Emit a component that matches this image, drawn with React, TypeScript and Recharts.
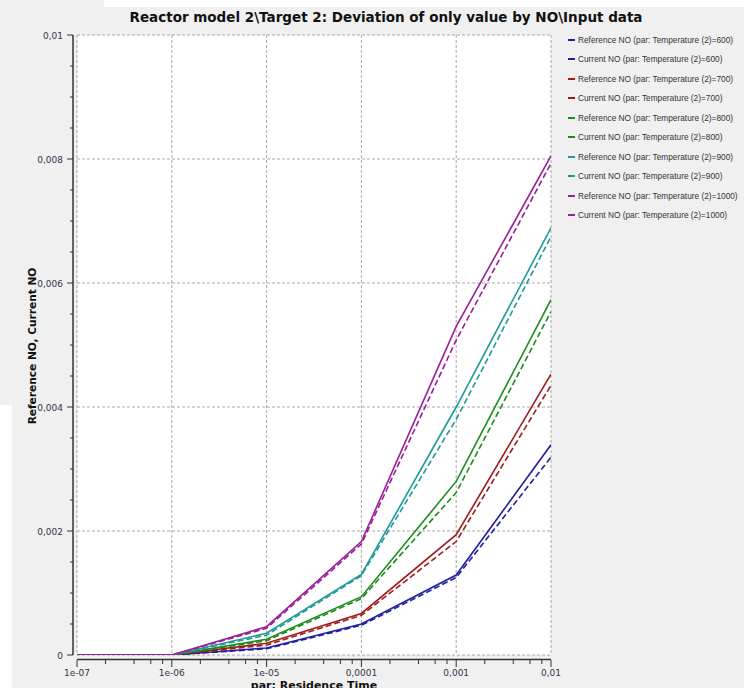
import { LineChart, Line, XAxis, YAxis, CartesianGrid } from "recharts";

// residence time points (log axis)
const tiempos = [1e-7, 1e-6, 1e-5, 1e-4, 1e-3, 1e-2];
const temperaturas = [600, 700, 800, 900, 1000];

// Current NO (solid) per temperature
const actual600 = [0, 0, 0.000113, 0.0005, 0.00129, 0.00339];
const actual700 = [0, 0, 0.000189, 0.00067, 0.00194, 0.00453];
const actual800 = [0, 0, 0.000253, 0.00094, 0.0028, 0.00573];
const actual900 = [0, 0, 0.00035, 0.0013, 0.004, 0.00689];
const actual1000 = [0, 0, 0.000457, 0.00183, 0.0053, 0.00805];

// Reference NO (dashed) per temperature
const ref600 = [0, 0, 0.0001, 0.00048, 0.00125, 0.00319];
const ref700 = [0, 0, 0.00016, 0.00064, 0.00183, 0.00435];
const ref800 = [0, 0, 0.00023, 0.00091, 0.00262, 0.00554];
const ref900 = [0, 0, 0.00032, 0.00128, 0.0038, 0.00675];
const ref1000 = [0, 0, 0.00043, 0.00179, 0.00508, 0.00793];

const colores = ["#2020a0", "#a01c1c", "#1c8c1c", "#1e9a9a", "#9a1e9a"];

const X_MAYORES = [1e-7, 1e-6, 1e-5, 1e-4, 1e-3, 1e-2];
const X_ETIQUETAS = ["1e-07", "1e-06", "1e-05", "0,0001", "0,001", "0,01"];
const X_MENORES = [
  2e-7, 4e-7, 6e-7, 8e-7,
  2e-6, 4e-6, 6e-6, 8e-6,
  2e-5, 4e-5, 6e-5, 8e-5,
  2e-4, 4e-4, 6e-4, 8e-4,
  2e-3, 4e-3, 6e-3, 8e-3,
];
const Y_MAYORES = [0, 0.002, 0.004, 0.006, 0.008, 0.01];
const Y_ETIQUETAS = ["0", "0,002", "0,004", "0,006", "0,008", "0,01"];
const Y_MENORES = [
  0.0005, 0.001, 0.0015, 0.0025, 0.003, 0.0035, 0.0045, 0.005, 0.0055,
  0.0065, 0.007, 0.0075, 0.0085, 0.009, 0.0095,
];

const actuales = [actual600, actual700, actual800, actual900, actual1000];
const referencias = [ref600, ref700, ref800, ref900, ref1000];

const datos = tiempos.map((t, i) => {
  const fila: Record<string, number> = { t };
  temperaturas.forEach((T, k) => {
    fila[`ref${T}`] = referencias[k][i];
    fila[`cur${T}`] = actuales[k][i];
  });
  return fila;
});

const series = temperaturas.flatMap((T, k) => [
  { key: `ref${T}`, nombre: `Reference NO (par: Temperature (2)=${T})`, color: colores[k], dash: "6 3" },
  { key: `cur${T}`, nombre: `Current NO (par: Temperature (2)=${T})`, color: colores[k], dash: undefined },
]);

const FUENTE = "Tahoma, 'DejaVu Sans', sans-serif";
const COLOR_TXT = "#33334a";

const esCerca = (a: number, b: number) => Math.abs(a - b) <= Math.abs(b) * 1e-6 + 1e-12;

function TickX({ x, y, payload }: any) {
  const i = X_MAYORES.findIndex((v) => esCerca(payload.value, v));
  const mayor = i >= 0;
  return (
    <g>
      <line x1={x} x2={x} y1={y + 5} y2={y + (mayor ? 12 : 9)} stroke="#333" strokeWidth={1} />
      {mayor && (
        <text x={x} y={y + 20.5} textAnchor="middle" fontSize={9} fontFamily={FUENTE} fill={COLOR_TXT}>
          {X_ETIQUETAS[i]}
        </text>
      )}
    </g>
  );
}

function TickY({ x, y, payload }: any) {
  const i = Y_MAYORES.findIndex((v) => esCerca(payload.value, v));
  const mayor = i >= 0;
  return (
    <g>
      <line x1={x - (mayor ? 10 : 7)} x2={x - 4} y1={y} y2={y} stroke="#333" strokeWidth={1} />
      {mayor && (
        <text x={x - 14} y={y + 3.5} textAnchor="end" fontSize={9} fontFamily={FUENTE} fill={COLOR_TXT}>
          {Y_ETIQUETAS[i]}
        </text>
      )}
    </g>
  );
}

export default function App() {
  return (
    <div
      style={{
        position: "absolute", left: 0, top: 0, width: 744, height: 688,
        background: "#f0f0f0", overflow: "hidden", fontFamily: FUENTE,
      }}
    >
      {/* screenshot leftovers */}
      <div style={{ position: "absolute", left: 104, top: 0, width: 640, height: 7, background: "#fff" }} />
      <div style={{ position: "absolute", left: 0, top: 405, width: 12, height: 283, background: "#fff" }} />

      <div
        style={{
          position: "absolute", left: 0, width: 772, top: 9, textAlign: "center",
          fontWeight: "bold", fontSize: 13.5, color: "#111", fontFamily: "'DejaVu Sans', sans-serif",
        }}
      >
        Reactor model 2\Target 2: Deviation of only value by NO\Input data
      </div>

      <div
        style={{
          position: "absolute", left: 32, top: 346, transform: "translate(-50%, -50%) rotate(-90deg)",
          whiteSpace: "nowrap", fontWeight: "bold", fontSize: 10.6, color: "#111",
          fontFamily: "'DejaVu Sans', sans-serif",
        }}
      >
        Reference NO, Current NO
      </div>

      <div
        style={{
          position: "absolute", left: 314, top: 686, transform: "translate(-50%, -50%)",
          whiteSpace: "nowrap", fontWeight: "bold", fontSize: 11, color: "#111",
          fontFamily: "'DejaVu Sans', sans-serif", lineHeight: "12px",
        }}
      >
        par: Residence Time
      </div>

      <div style={{ position: "absolute", left: 0, top: 0 }}>
        <LineChart width={744} height={688} data={datos} margin={{ top: 35, right: 193, bottom: 3, left: 17 }}>
          <CartesianGrid
            fill="#fff"
            stroke="#a8a8a8"
            strokeDasharray="3 2"
            verticalValues={X_MAYORES}
            horizontalValues={Y_MAYORES}
          />
          <XAxis
            dataKey="t"
            type="number"
            scale="log"
            domain={[1e-7, 1e-2]}
            ticks={[...X_MAYORES, ...X_MENORES]}
            interval={0}
            tick={<TickX />}
            tickLine={false}
            tickSize={0}
            tickMargin={0}
            height={30}
            axisLine={{ stroke: "#333", strokeWidth: 1.5, transform: "translate(0,4.5)" }}
            allowDataOverflow
          />
          <YAxis
            type="number"
            domain={[0, 0.01]}
            ticks={[...Y_MAYORES, ...Y_MENORES]}
            interval={0}
            tick={<TickY />}
            tickLine={false}
            tickSize={0}
            tickMargin={0}
            width={60}
            axisLine={{ stroke: "#333", strokeWidth: 1.5, transform: "translate(-4,0)" }}
            allowDataOverflow
          />
          {series.map((s) => (
            <Line
              key={s.key}
              dataKey={s.key}
              name={s.nombre}
              stroke={s.color}
              strokeWidth={1.6}
              strokeDasharray={s.dash}
              dot={false}
              activeDot={false}
              type="linear"
              isAnimationActive={false}
            />
          ))}
        </LineChart>
      </div>

      <div style={{ position: "absolute", left: 568, top: 30 }}>
        {series.map((s) => (
          <div
            key={s.key}
            style={{ height: 19.5, display: "flex", alignItems: "center", whiteSpace: "nowrap" }}
          >
            <span style={{ display: "inline-block", width: 7, height: 2, background: s.color, marginRight: 3 }} />
            <span style={{ fontSize: 8.3, color: "#333", fontFamily: "'Liberation Sans', sans-serif" }}>{s.nombre}</span>
          </div>
        ))}
      </div>
    </div>
  );
}
